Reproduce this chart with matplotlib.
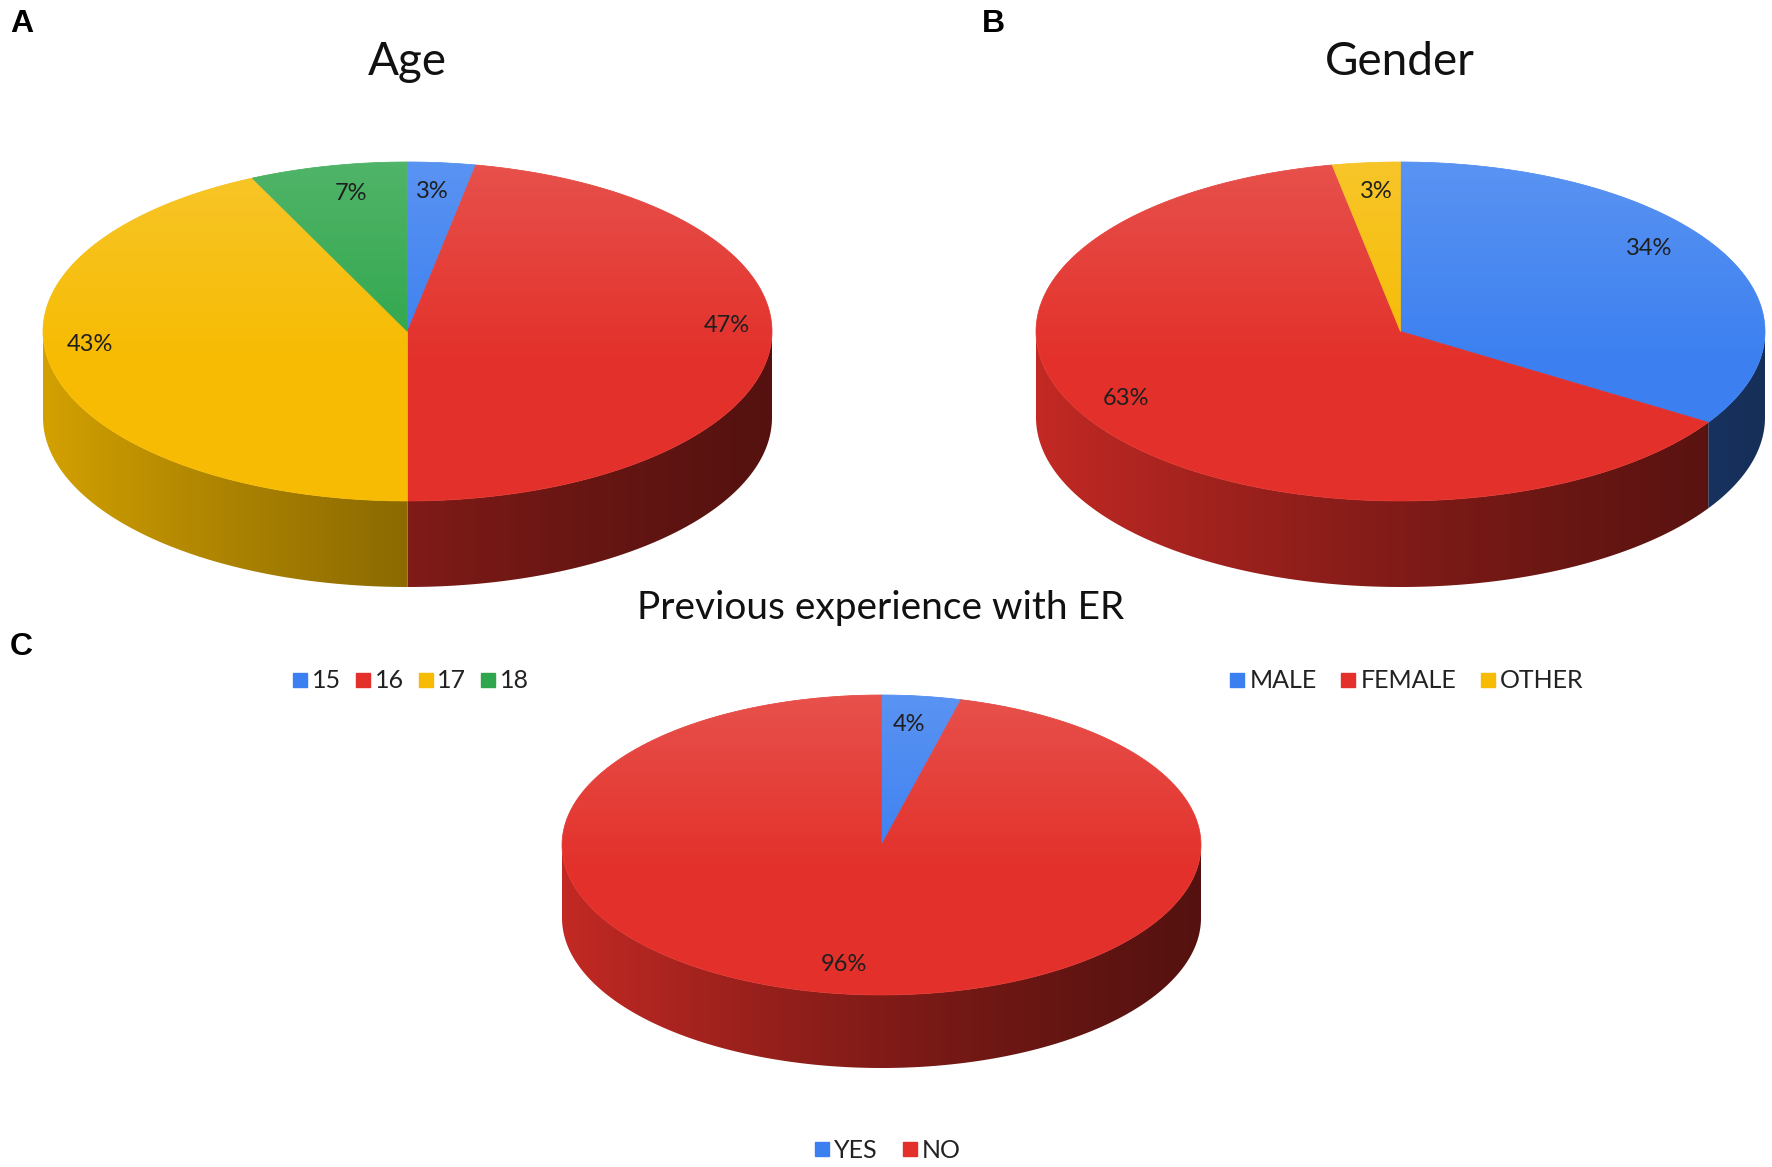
import numpy as np
import matplotlib
matplotlib.use("Agg")
import matplotlib.pyplot as plt
from matplotlib.patches import Polygon, Ellipse
from matplotlib.lines import Line2D
from matplotlib.colors import to_rgb

# data
age_labels = ["15", "16", "17", "18"]
age_values = [3, 47, 43, 7]
gender_labels = ["MALE", "FEMALE", "OTHER"]
gender_values = [34, 63, 3]
er_labels = ["YES", "NO"]
er_values = [4, 96]

BLUE = "#3b7ff0"
RED = "#e3302a"
YELLOW = "#f6bb02"
GREEN = "#2fa64c"
age_colors = [BLUE, RED, YELLOW, GREEN]
gender_colors = [BLUE, RED, YELLOW]
er_colors = [BLUE, RED]

W, H = 1772, 1167
fig = plt.figure(figsize=(W / 100, H / 100), dpi=100)
ax = fig.add_axes([0, 0, 1, 1])
ax.set_xlim(0, W)
ax.set_ylim(H, 0)
ax.axis("off")

TXT = "Lato"


def side_shade(u):
    # u: 0 at left edge of pie, 1 at right edge
    return 0.86 - 0.68 * u + 0.19 * u ** 2


def pie3d(values, colors, cx, cy, rx, ry, depth):
    total = float(sum(values))
    ang = np.concatenate([[0], np.cumsum(values) / total * 360.0])
    u = np.linspace(0, 1, 400)
    # front side walls (visible between 90 and 270 deg, clockwise from top)
    for i, col in enumerate(colors):
        a0, a1 = max(ang[i], 90), min(ang[i + 1], 270)
        if a1 <= a0:
            continue
        th = np.radians(np.linspace(a0, a1, 200))
        xs = cx + rx * np.sin(th)
        ys = cy - ry * np.cos(th)
        pts = list(zip(xs, ys)) + list(zip(xs[::-1], ys[::-1] + depth))
        wall = Polygon(pts, closed=True, facecolor="none", edgecolor="none")
        ax.add_patch(wall)
        img = np.clip(np.array(to_rgb(col))[None, :] * side_shade(u)[:, None], 0, 1)
        img = np.repeat(img[None, :, :], 2, axis=0)
        im = ax.imshow(img, extent=(cx - rx, cx + rx, cy + ry + depth + 2, cy - ry),
                       origin="upper", aspect="auto", interpolation="bilinear", zorder=1)
        im.set_clip_path(wall)
    # top face
    for i, col in enumerate(colors):
        th = np.radians(np.linspace(ang[i], ang[i + 1], 200))
        pts = [(cx, cy)] + list(zip(cx + rx * np.sin(th), cy - ry * np.cos(th)))
        ax.add_patch(Polygon(pts, closed=True, facecolor=col, edgecolor=col,
                             linewidth=0.5, zorder=2))
    # light sheen on the top face
    grad = np.zeros((200, 2, 4))
    grad[..., :3] = 1.0
    a = np.clip(1 - np.linspace(0, 1, 200) / 0.6, 0, 1) * 0.16
    grad[..., 3] = a[:, None]
    clip = Ellipse((cx, cy), 2 * rx, 2 * ry, facecolor="none", edgecolor="none")
    ax.add_patch(clip)
    im = ax.imshow(grad, extent=(cx - rx, cx + rx, cy + ry, cy - ry), origin="upper",
                   aspect="auto", interpolation="bilinear", zorder=3)
    im.set_clip_path(clip)
    # percentage labels, pushed outward along the slice middle as far as they fit
    r = fig.canvas.get_renderer()
    pad, lift = 20, 20
    for i, v in enumerate(values):
        mid = np.radians((ang[i] + ang[i + 1]) / 2)
        s, c = np.sin(mid), np.cos(mid)
        t_txt = ax.text(cx, cy, f"{round(v / total * 100)}%", ha="center", va="center",
                        fontsize=17, family=TXT, color="#1f1f1f", zorder=4)
        bb = t_txt.get_window_extent(r)
        hw, hh = bb.width / 2, bb.height / 2 * 0.75
        best = (cx, cy - lift)
        for t in np.linspace(0, 1, 401):
            x, y = cx + t * rx * s, cy - t * ry * c - lift
            inside = all(((x + dx - cx) / (rx - pad)) ** 2 + ((y + dy - cy) / (ry - pad)) ** 2 <= 1
                         for dx in (-hw, hw) for dy in (-hh, hh))
            if not inside:
                break
            best = (x, y)
        t_txt.set_position(best)


pie3d(age_values, age_colors, 407.5, 331.5, 364.5, 169.5, 86)
pie3d(gender_values, gender_colors, 1400.5, 331.5, 364.5, 169.5, 86)
pie3d(er_values, er_colors, 881.5, 845, 319.5, 150, 73)

# titles
ax.text(407, 62, "Age", ha="center", va="center", fontsize=33, family=TXT, color="#111")
ax.text(1400, 62, "Gender", ha="center", va="center", fontsize=33, family=TXT, color="#111")
ax.text(881, 608, "Previous experience with ER", ha="center", va="center", fontsize=28,
        family=TXT, color="#111")

# panel letters
for lab, x, y in [("A", 22, 24), ("B", 993, 24), ("C", 21, 647)]:
    ax.text(x, y, lab, ha="center", va="center", fontsize=23, fontweight="bold",
            family="Liberation Sans", color="#000")


def legend(labels, colors, x, y, gap):
    hs = [Line2D([], [], marker="s", linestyle="none", markersize=9.5, color=c) for c in colors]
    fig.legend(hs, labels, loc="center", bbox_to_anchor=(x / W, 1 - y / H), ncol=len(labels),
               frameon=False, handletextpad=0.2, columnspacing=gap, handlelength=0.55,
               prop={"family": TXT, "size": 18}, labelcolor="#222")


legend(age_labels, age_colors, 411, 681, 0.6)
legend(gender_labels, gender_colors, 1407, 681, 1.0)
legend(er_labels, er_colors, 888, 1150, 1.0)

fig.savefig("out.png", dpi=100, facecolor="white")
